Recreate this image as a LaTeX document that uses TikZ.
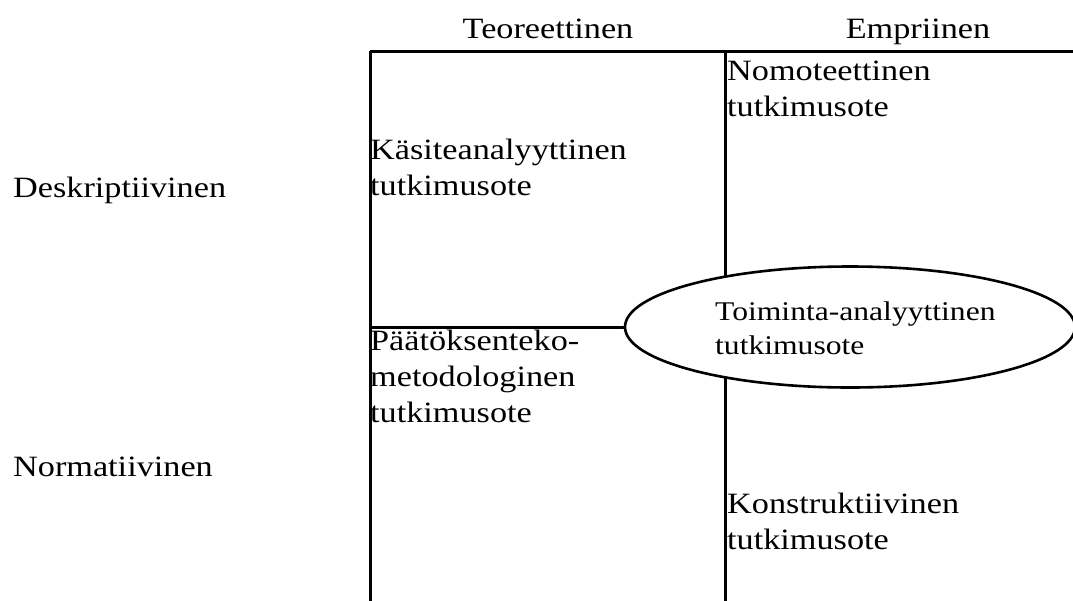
\documentclass[tikz,border=0pt]{standalone}
\usepackage{fontspec}
\setmainfont{Liberation Serif}
\usetikzlibrary{shapes.geometric}

% text set slightly wide, one tabular per label so rows keep a fixed spacing
\newcommand\widecell[1]{\scalebox{1.16}[1]{\begin{tabular}[t]{@{}l@{}}#1\end{tabular}}}

\tikzset{
  grid/.style={line width=3pt, line cap=butt},
  label/.style={inner sep=0pt, font=\fontsize{29.5}{36}\selectfont},
  cell/.style={label, anchor=base west},
  head/.style={label, anchor=base},
  oval/.style={ellipse, draw, line width=2.6pt, fill=white, inner sep=0pt,
    minimum width=450pt, minimum height=121pt},
  ovaltext/.style={inner sep=0pt, font=\fontsize{27}{34}\selectfont}
}

\begin{document}
\begin{tikzpicture}[x=1pt, y=-1pt]
  \useasboundingbox (0,0) rectangle (1073,600);

  % frame of the four-field table
  \coordinate (tl) at (370,51);
  \coordinate (tm) at (725,51);
  \coordinate (tr) at (1074,51);
  \coordinate (bl) at (370,601);
  \coordinate (bm) at (725,601);
  \coordinate (ml) at (370,327);

  \draw[grid] (tl) -- (tr);
  \draw[grid] (tl) -- (bl);
  \draw[grid] (tm) -- (bm);

  % column and row headings
  \node[head] (teor) at (548,38) {\widecell{Teoreettinen}};
  \node[head] (emp)  at (918,38) {\widecell{Empriinen}};
  \node[cell] (desk) at (13,197) {\widecell{Deskriptiivinen}};
  \node[cell] (norm) at (13,476) {\widecell{Normatiivinen}};

  % research approaches in the fields
  \node[cell] (kasite) at (370,159) {\widecell{Käsiteanalyyttinen\\tutkimusote}};
  \node[cell] (nomo)   at (727,80)  {\widecell{Nomoteettinen\\tutkimusote}};
  \node[cell] (paat)   at (370,350) {\widecell{Päätöksenteko-\\metodologinen\\tutkimusote}};
  \node[cell] (konst)  at (727,513) {\widecell{Konstruktiivinen\\tutkimusote}};

  % action-analytic approach spanning both columns
  \node[oval] (toim) at (850,327) {};
  \node[ovaltext, anchor=base west] (toimtext) at (715,320)
    {\scalebox{1.17}[1]{\begin{tabular}[t]{@{}l@{}}Toiminta-analyyttinen\\tutkimusote\end{tabular}}};

  \draw[grid] (ml) -- (toim.west);
\end{tikzpicture}
\end{document}
